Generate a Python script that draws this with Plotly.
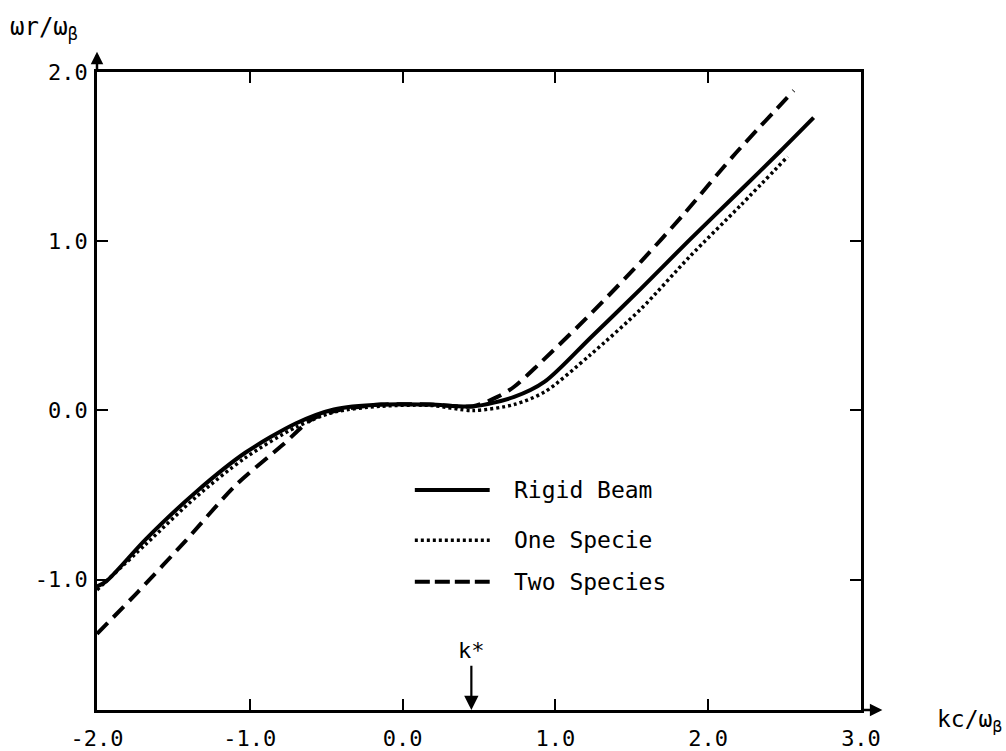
import plotly.graph_objects as go

# ---- data ----
rigid_x = [-2.0, -1.94, -1.68, -1.35, -1.03, -0.70, -0.45, -0.14, 0.18, 0.46, 0.73, 0.93, 1.23, 1.56, 1.88, 2.21, 2.47, 2.69]
rigid_y = [-1.04, -1.01, -0.76, -0.48, -0.25, -0.077, 0.006, 0.035, 0.035, 0.024, 0.08, 0.17, 0.43, 0.72, 1.01, 1.30, 1.53, 1.73]

one_x = [-2.0, -1.68, -1.35, -1.03, -0.70, -0.45, -0.14, 0.18, 0.46, 0.73, 0.93, 1.23, 1.56, 1.88, 2.21, 2.52]
one_y = [-1.06, -0.79, -0.51, -0.28, -0.10, -0.01, 0.025, 0.03, 0.0, 0.035, 0.11, 0.33, 0.60, 0.91, 1.21, 1.50]

two_x = [-2.0, -1.73, -1.42, -1.09, -0.78, -0.59, -0.40, -0.14, 0.18, 0.46, 0.62, 0.73, 0.90, 1.23, 1.56, 1.84, 2.16, 2.56]
two_y = [-1.32, -1.07, -0.77, -0.44, -0.20, -0.05, 0.005, 0.035, 0.035, 0.025, 0.08, 0.14, 0.28, 0.57, 0.88, 1.16, 1.50, 1.89]

x_ticks = [-2, -1, 0, 1, 2, 3]
x_tick_text = ["-2.0", "-1.0", "0.0", "1.0", "2.0", "3.0"]
y_ticks = [-1, 0, 1, 2]
y_tick_text = ["-1.0", "0.0", "1.0", "2.0"]

series_names = ["Rigid Beam", "One Specie", "Two Species"]
k_star = 0.45

FONT = "DejaVu Sans Mono"

fig = go.Figure()
fig.add_trace(go.Scatter(x=rigid_x, y=rigid_y, mode="lines", name=series_names[0],
                         line=dict(color="black", width=4, shape="spline", smoothing=0.8)))
fig.add_trace(go.Scatter(x=one_x, y=one_y, mode="lines", name=series_names[1],
                         line=dict(color="black", width=3.5, dash="3px,3px", shape="spline", smoothing=0.8)))
fig.add_trace(go.Scatter(x=two_x, y=two_y, mode="lines", name=series_names[2],
                         line=dict(color="black", width=4, dash="15px,8px", shape="spline", smoothing=0.8)))

axis_common = dict(showline=True, linecolor="black", linewidth=2.5, mirror="ticks",
                   ticks="inside", ticklen=11, tickwidth=2, tickcolor="black",
                   showgrid=False, zeroline=False, automargin=False,
                   tickfont=dict(family=FONT, size=22, color="black"))

fig.update_xaxes(range=[-2, 3], tickvals=x_ticks, ticktext=x_tick_text, ticklabelstandoff=7, **axis_common)
fig.update_yaxes(range=[-1.77, 2.0], tickvals=y_ticks, ticktext=y_tick_text, ticklabelstandoff=2, **axis_common)

ann = []
# axis arrows
ann.append(dict(x=-2, y=2.12, ax=-2, ay=2.0, xref="x", yref="y", axref="x", ayref="y",
                showarrow=True, arrowhead=2, arrowsize=1, arrowwidth=2.5, arrowcolor="black", text=""))
ann.append(dict(x=3.14, y=-1.77, ax=3.0, ay=-1.77, xref="x", yref="y", axref="x", ayref="y",
                showarrow=True, arrowhead=2, arrowsize=1, arrowwidth=2.5, arrowcolor="black", text=""))
# k* arrow
ann.append(dict(x=k_star, y=-1.77, ax=k_star, ay=-1.50, xref="x", yref="y", axref="x", ayref="y",
                showarrow=True, arrowhead=2, arrowsize=1.3, arrowwidth=2.2, arrowcolor="black", text=""))
ann.append(dict(x=k_star, y=-1.42, xref="x", yref="y", showarrow=False, text="k*",
                font=dict(family=FONT, size=22, color="black")))
# axis titles
ann.append(dict(x=-0.116, y=1.068, xref="paper", yref="paper", xanchor="left", yanchor="middle",
                showarrow=False, text="ωr/ω<sub>β</sub>", font=dict(family=FONT, size=24, color="black")))
ann.append(dict(x=1.097, y=-0.018, xref="paper", yref="paper", xanchor="left", yanchor="middle",
                showarrow=False, text="kc/ω<sub>β</sub>", font=dict(family=FONT, size=23, color="black")))

# legend (drawn manually to match long sample lines)
leg_y = [0.345, 0.266, 0.201]
leg_dash = ["solid", "3px,3px", "15px,5px"]
leg_w = [4, 3.5, 4]
shapes = []
for name, yy, d, w in zip(series_names, leg_y, leg_dash, leg_w):
    shapes.append(dict(type="line", xref="paper", yref="paper", x0=0.416, x1=0.514, y0=yy, y1=yy,
                       line=dict(color="black", width=w, dash=d)))
    ann.append(dict(x=0.543, y=yy, xref="paper", yref="paper", xanchor="left", yanchor="middle",
                    showarrow=False, text=name, font=dict(family=FONT, size=23, color="black")))

fig.update_layout(width=1006, height=751, margin=dict(l=97, r=145, t=72, b=41, autoexpand=False),
                  paper_bgcolor="white", plot_bgcolor="white", showlegend=False,
                  annotations=ann, shapes=shapes)

fig.write_html("out.html")
